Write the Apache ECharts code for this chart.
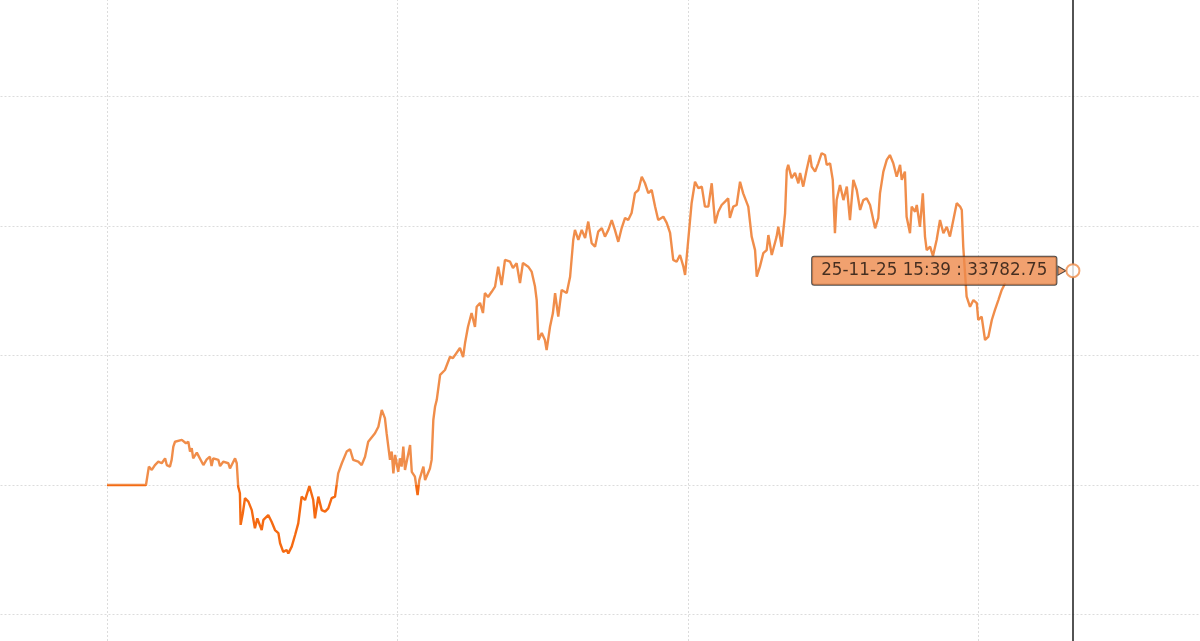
<!DOCTYPE html>
<html>
<head>
<meta charset="utf-8">
<script src="https://cdn.jsdelivr.net/npm/echarts@6/dist/echarts.min.js"></script>
<style>
  html, body { margin: 0; padding: 0; background: #fff; }
  #chart { width: 1200px; height: 641px; }
</style>
</head>
<body>
<div id="chart"></div>
<script>
// minutes after 09:00
const minutes = [
  0, 16.1, 17.3, 18.5, 19.8, 21.2, 22.6, 24.0, 24.7, 26.0,
  26.7, 27.4, 28.1, 30.9, 32.6, 33.6, 34.3, 35.0, 35.6, 37.1,
  39.8, 41.2, 42.5, 43.2, 43.9, 46.0, 46.7, 48.0, 50.1, 50.8,
  52.9, 53.6, 54.2, 54.9, 55.2, 56.1, 57.0, 58.4, 59.8, 61.1,
  62.1, 63.9, 64.6, 66.6, 68.0, 69.4, 70.8, 71.5, 72.8, 74.2,
  74.9, 76.3, 77.7, 79.0, 80.4, 81.8, 83.6, 85.2, 85.9, 87.3,
  88.7, 90.1, 91.4, 92.8, 94.2, 95.5, 97.0, 99.0, 100.4, 101.7,
  103.8, 105.2, 106.6, 107.9, 110.7, 112.1, 113.5, 114.8, 115.5, 116.9,
  117.6, 118.3, 119.0, 120.3, 121.0, 121.7, 122.4, 123.1, 125.2, 125.9,
  127.2, 128.3, 129.0, 130.7, 131.4, 133.4, 134.1, 134.8, 135.5, 136.2,
  137.6, 139.6, 141.7, 142.9, 145.8, 147.1, 147.9, 149.1, 150.6, 152.0,
  152.7, 154.1, 155.3, 156.1, 157.4, 158.9, 160.3, 161.6, 163.0, 164.4,
  166.5, 167.7, 169.2, 170.6, 171.8, 174.0, 175.4, 176.8, 177.5, 178.2,
  179.6, 180.9, 181.6, 183.0, 184.2, 185.1, 186.4, 187.8, 189.9, 191.3,
  192.6, 193.3, 194.7, 196.1, 197.5, 198.8, 200.2, 201.6, 202.9, 204.4,
  205.7, 207.1, 208.5, 209.8, 211.2, 212.6, 214.0, 215.3, 216.7, 218.1,
  219.5, 220.9, 222.2, 223.6, 225.0, 226.4, 227.7, 229.8, 231.2, 232.6,
  233.9, 235.3, 236.7, 238.1, 238.8, 240.1, 241.5, 242.9, 244.3, 245.7,
  247.0, 248.4, 249.8, 251.2, 252.5, 253.9, 255.3, 256.6, 257.3, 258.7,
  260.1, 261.5, 262.8, 264.9, 266.3, 267.7, 268.4, 269.7, 271.1, 272.5,
  273.2, 274.6, 276.6, 277.3, 278.7, 280.1, 280.8, 281.4, 282.8, 284.2,
  285.6, 286.3, 287.6, 289.0, 290.4, 291.1, 292.5, 293.8, 295.2, 296.6,
  297.3, 298.7, 299.8, 300.7, 301.4, 302.8, 304.2, 305.6, 306.9, 308.3,
  309.7, 311.1, 312.4, 313.8, 315.2, 317.3, 318.6, 319.3, 320.7, 322.1,
  323.4, 324.8, 326.2, 327.6, 328.3, 329.6, 330.3, 331.7, 332.4, 333.8,
  334.5, 335.8, 337.0, 337.9, 338.6, 340.0, 341.2, 342.7, 344.1, 345.5,
  346.9, 348.2, 349.6, 351.0, 352.4, 353.1, 353.7, 355.1, 356.5, 357.9,
  359.3, 359.9, 361.3, 362.7, 364.1, 365.5, 366.8, 368.2, 369.6, 371.0
];
const prices = [
  33700.0, 33700.0, 33707.1, 33705.8, 33707.7, 33709.0, 33708.4, 33710.3, 33707.7, 33707.1,
  33709.7, 33714.8, 33716.7, 33717.4, 33716.1, 33716.7, 33712.9, 33714.2, 33710.3, 33712.5,
  33707.7, 33709.9, 33710.9, 33707.3, 33710.3, 33709.7, 33707.3, 33709.0, 33708.4, 33706.4,
  33710.3, 33708.4, 33699.3, 33696.8, 33684.6, 33689.1, 33694.9, 33693.6, 33690.3, 33683.3,
  33687.1, 33682.6, 33686.5, 33688.4, 33685.8, 33682.6, 33681.4, 33677.5, 33674.2, 33674.9,
  33673.6, 33676.2, 33680.7, 33685.2, 33695.5, 33694.2, 33699.6, 33694.2, 33687.1, 33695.5,
  33690.3, 33689.7, 33691.0, 33694.9, 33695.5, 33704.5, 33708.4, 33712.9, 33713.8, 33709.7,
  33709.0, 33707.7, 33710.9, 33716.7, 33720.0, 33722.5, 33729.0, 33725.8, 33720.0, 33709.7,
  33712.9, 33704.5, 33711.6, 33705.1, 33710.3, 33707.1, 33714.8, 33705.8, 33715.4, 33705.1,
  33703.2, 33696.1, 33701.9, 33707.1, 33701.9, 33706.4, 33709.7, 33725.1, 33730.2, 33732.8,
  33742.5, 33744.4, 33749.5, 33749.0, 33752.9, 33749.4, 33754.8, 33761.0, 33766.4, 33761.0,
  33768.8, 33770.3, 33766.4, 33774.1, 33772.6, 33774.6, 33776.6, 33784.3, 33777.2, 33786.9,
  33786.2, 33783.8, 33785.6, 33778.0, 33785.7, 33784.3, 33782.4, 33776.6, 33771.4, 33756.0,
  33758.7, 33756.0, 33752.1, 33761.1, 33766.4, 33774.1, 33765.0, 33775.3, 33774.1, 33780.4,
  33794.6, 33798.5, 33794.6, 33798.5, 33795.4, 33801.7, 33793.4, 33792.0, 33797.8, 33799.2,
  33795.9, 33798.5, 33802.3, 33798.5, 33793.9, 33799.2, 33803.1, 33802.3, 33805.0, 33812.7,
  33813.9, 33819.0, 33816.6, 33812.7, 33813.9, 33807.5, 33802.3, 33803.6, 33801.2, 33797.3,
  33786.9, 33786.2, 33788.8, 33784.3, 33781.1, 33794.6, 33808.9, 33817.1, 33814.6, 33815.2,
  33807.5, 33807.5, 33816.5, 33801.0, 33805.5, 33808.1, 33809.4, 33810.7, 33803.1, 33807.5,
  33808.1, 33817.1, 33812.6, 33807.5, 33795.9, 33790.7, 33780.4, 33784.3, 33789.5, 33790.7,
  33796.5, 33788.8, 33795.9, 33799.7, 33792.0, 33804.9, 33821.6, 33823.6, 33818.5, 33820.5,
  33816.5, 33820.5, 33815.2, 33821.6, 33827.4, 33822.9, 33821.0, 33824.2, 33828.1, 33827.4,
  33823.6, 33824.2, 33817.8, 33797.2, 33810.0, 33815.8, 33810.0, 33815.2, 33802.3, 33817.8,
  33813.9, 33806.2, 33810.0, 33810.7, 33808.1, 33799.1, 33803.0, 33812.6, 33821.0, 33825.5,
  33827.4, 33824.2, 33819.0, 33823.6, 33817.8, 33821.0, 33803.6, 33797.2, 33807.5, 33805.5,
  33808.1, 33799.7, 33812.6, 33795.9, 33790.7, 33792.0, 33788.4, 33794.6, 33802.3, 33797.2,
  33799.7, 33795.9, 33802.3, 33808.8, 33807.5, 33806.2, 33792.0, 33772.7, 33768.8, 33771.4,
  33770.2, 33763.7, 33765.0, 33756.0, 33757.3, 33763.7, 33767.6, 33771.4, 33775.3, 33777.9
];
const openPrice = 33700;
const lastTime = 399; // 15:39
const lastPrice = 33782.75;
const lastLabel = '25-11-25 15:39';

const upColor = '#f08d4a';
const downColor = '#f56a12';

const chart = echarts.init(document.getElementById('chart'));
const lineData = minutes.map((m, i) => [m, prices[i]]);

chart.setOption({
  animation: false,
  backgroundColor: '#fff',
  grid: {
    left: -183.5, right: -69, top: -33, bottom: -103,
    containLabel: false,
    outerBoundsMode: 'none'
  },
  xAxis: {
    type: 'value',
    min: -120,
    max: 480,
    interval: 120,
    axisLine: { show: false },
    axisTick: { show: false },
    axisLabel: { show: false },
    splitLine: { show: true, lineStyle: { color: '#dcdcdc', type: [2, 2], width: 1 } }
  },
  yAxis: {
    type: 'value',
    min: 33600,
    max: 33900,
    interval: 50,
    axisLine: { show: false },
    axisTick: { show: false },
    axisLabel: { show: false },
    splitLine: { show: true, lineStyle: { color: '#dcdcdc', type: [2, 2], width: 1 } }
  },
  visualMap: {
    show: false,
    type: 'piecewise',
    seriesIndex: 0,
    dimension: 1,
    pieces: [
      { min: 33600, max: openPrice, color: downColor },
      { min: openPrice, max: 33900, color: upColor }
    ],
    outOfRange: { color: upColor }
  },
  series: [
    {
      type: 'line',
      data: lineData,
      showSymbol: false,
      lineStyle: { width: 2.4 },
      markLine: {
        silent: true,
        symbol: 'none',
        label: { show: false },
        lineStyle: { color: '#1a1a1a', type: 'solid', width: 1.5 },
        data: [{ xAxis: lastTime }]
      },
      z: 2
    },
    {
      // little pointer between the price box and the dot
      type: 'scatter',
      data: [[lastTime, lastPrice]],
      symbol: 'triangle',
      symbolRotate: -90,
      symbolSize: [9, 8],
      symbolOffset: [-11, 0],
      itemStyle: { color: '#ee8a4b', borderColor: '#222', borderWidth: 1 },
      z: 4
    },
    {
      type: 'scatter',
      data: [[lastTime, lastPrice]],
      symbol: 'circle',
      symbolSize: 13,
      itemStyle: { color: '#fff', borderColor: upColor, borderWidth: 2 },
      label: {
        show: true,
        position: 'left',
        distance: 9,
        formatter: () => lastLabel + ' : ' + lastPrice.toFixed(2),
        backgroundColor: '#ee8a4b',
        borderColor: '#222',
        borderWidth: 1,
        borderRadius: 2,
        padding: [5, 9, 4, 9],
        color: '#1a120c',
        fontFamily: 'DejaVu Sans',
        fontSize: 16.8,
        lineHeight: 19
      },
      z: 5
    }
  ]
});
</script>
</body>
</html>
